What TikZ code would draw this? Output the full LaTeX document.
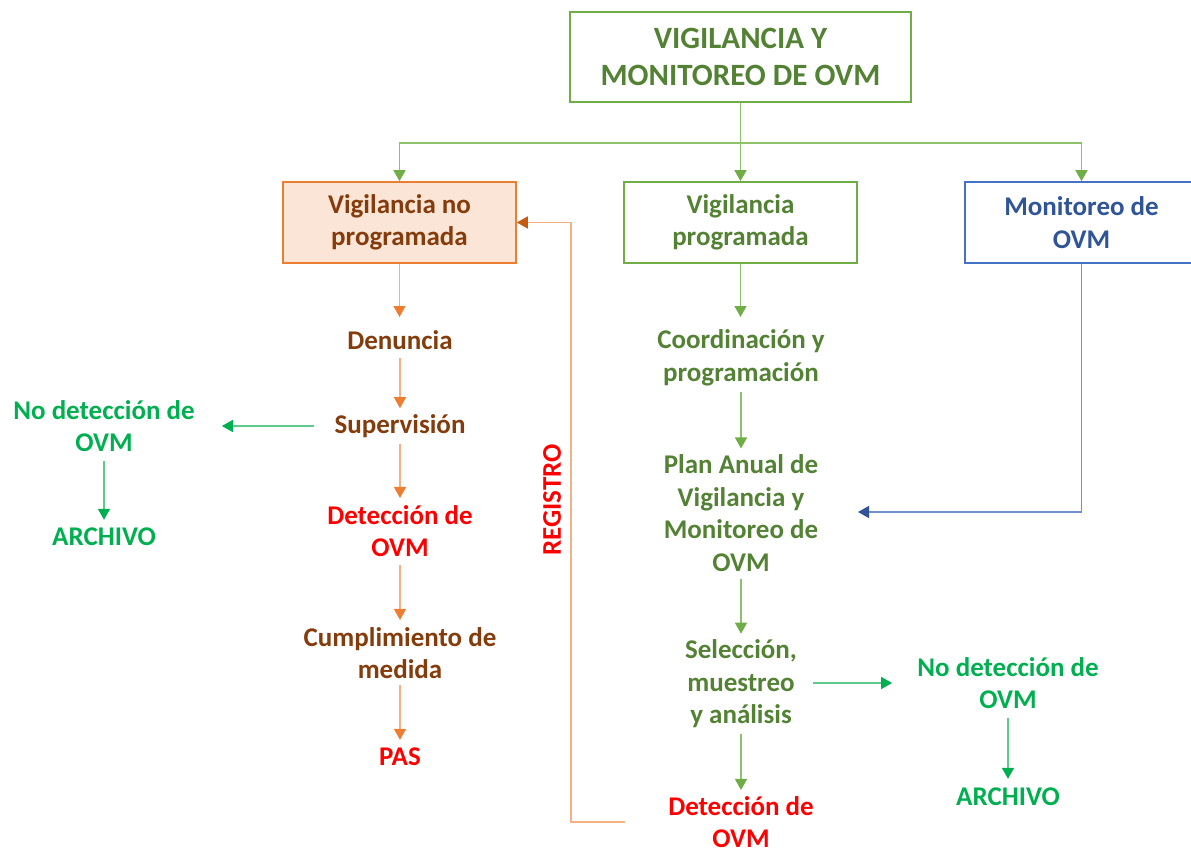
\documentclass[tikz,border=0pt]{standalone}
\usepackage{fontspec}
\setmainfont{Carlito}
\usetikzlibrary{arrows.meta,calc}
\definecolor{tgreen}{HTML}{548235}
\definecolor{bgreen}{HTML}{70AD47}
\definecolor{lgreen}{HTML}{8DC26A}
\definecolor{vgreen}{HTML}{00B050}
\definecolor{lvgreen}{HTML}{5CCB8C}
\definecolor{oborder}{HTML}{ED7D31}
\definecolor{ofill}{HTML}{FBE5D6}
\definecolor{oline}{HTML}{F4B183}
\definecolor{odark}{HTML}{C55A11}
\definecolor{brown}{HTML}{843C0C}
\definecolor{tblue}{HTML}{2F5597}
\definecolor{lblue}{HTML}{6F8FCF}
\definecolor{bblue}{HTML}{4472C4}
\definecolor{tred}{HTML}{FF0000}
\tikzset{
  txt/.style={font=\bfseries\fontsize{27}{32.5}\selectfont, align=center, inner sep=0pt},
  boxstyle/.style={txt, draw, line width=1.6pt, minimum width=233pt, minimum height=81pt},
  garr/.style={draw=lgreen, line width=1.4pt, -{Triangle[length=11pt,width=12pt,color=bgreen]}},
  oarr/.style={draw=oline, line width=1.4pt, -{Triangle[length=11pt,width=12pt,color=oborder]}},
  rarr/.style={draw=oline, line width=1.4pt, -{Triangle[length=11pt,width=12pt,color=odark]}},
  barr/.style={draw=lblue, line width=1.4pt, -{Triangle[length=11pt,width=12pt,color=tblue]}},
  varr/.style={draw=lvgreen, line width=1.4pt, -{Triangle[length=11pt,width=12pt,color=vgreen]}},
}
\begin{document}
\begin{tikzpicture}[x=1pt,y=-1pt]
\useasboundingbox (0,0) rectangle (1191,850);
\clip (0,0) rectangle (1191,850);
% boxes
\node[txt, draw=bgreen, line width=1.6pt, text=tgreen, minimum width=341pt, minimum height=90pt,
      font=\bfseries\fontsize{31}{37}\selectfont] (title) at (740.5,57) {VIGILANCIA Y\\MONITOREO DE OVM};
\node[boxstyle, draw=oborder, fill=ofill, text=brown] (vnp) at (399.5,222.5) {Vigilancia no\\programada};
\node[boxstyle, draw=bgreen, text=tgreen] (vp) at (740.5,222.5) {Vigilancia\\programada};
\node[boxstyle, draw=bblue, text=tblue] (mon) at (1081.5,222.5) {Monitoreo de\\OVM};
\coordinate (bus) at (740.5,143);
\draw[garr] (title.south) -- (vp.north);
\draw[garr] (bus) -| (vnp.north);
\draw[garr] (bus) -| (mon.north);
% left column
\node[txt, text=brown] (den) at (400,340) {Denuncia};
\node[txt, text=brown] (sup) at (400,426) {Supervisión};
\node[txt, text=tred] (det1) at (400,531) {Detección de\\OVM};
\node[txt, text=brown] (cum) at (400,653) {Cumplimiento de\\medida};
\node[txt, text=tred] (pas) at (400,757) {PAS};
\node[txt, text=vgreen] (nd1) at (104,426) {No detección de\\OVM};
\node[txt, text=vgreen] (arc1) at (104,537) {ARCHIVO};
\draw[oarr] (vnp.south) -- (vnp.south |- 0,317);
\draw[oarr, shorten <=8pt, shorten >=6pt] (den.south) -- (sup.north);
\draw[oarr, shorten <=6pt, shorten >=7pt] (sup.south) -- (det1.north);
\draw[oarr, shorten <=8pt, shorten >=7pt] (det1.south) -- (cum.north);
\draw[oarr, shorten <=6pt, shorten >=8pt] (cum.south) -- (pas.north);
\draw[varr, shorten <=20pt, shorten >=27pt] (sup.west) -- (sup.west -| nd1.east);
\draw[varr, shorten <=9pt, shorten >=8pt] (nd1.south) -- (nd1.south |- arc1.north);
% middle column
\node[txt, text=tgreen] (coord) at (741,358) {Coordinación y\\programación};
\node[txt, text=tgreen] (plan) at (741,513) {Plan Anual de\\Vigilancia y\\Monitoreo de\\OVM};
\node[txt, text=tgreen] (sel) at (741,684) {Selección,\\muestreo\\y análisis};
\node[txt, text=tred] (det2) at (741,822) {Detección de\\OVM};
\draw[garr] (vp.south) -- (vp.south |- 0,317);
\draw[garr, shorten <=6pt, shorten >=6pt] (coord.south) -- (plan.north);
\draw[garr, shorten <=7pt, shorten >=6pt] (plan.south) -- (sel.north);
\draw[garr, shorten <=6pt, shorten >=6pt] (sel.south) -- (det2.north);
% right
\node[txt, text=vgreen] (nd2) at (1008,683) {No detección de\\OVM};
\node[txt, text=vgreen] (arc2) at (1008,797) {ARCHIVO};
\draw[varr, shorten <=16pt, shorten >=25pt] (sel.east |- nd2.west) -- (nd2.west);
\draw[varr, shorten <=9pt, shorten >=9pt] (nd2.south) -- (nd2.south |- arc2.north);
\coordinate (planin) at (858,512);
\draw[barr] (mon.south) |- (planin);
% registro
\coordinate (regstart) at (625,822);
\draw[rarr] (regstart) -- ++(-54,0) |- (vnp.east);
\node[txt, text=tred, rotate=90, font=\bfseries\fontsize{27}{32}\selectfont] (reg) at (552,500) {REGISTRO};
\end{tikzpicture}
\end{document}
